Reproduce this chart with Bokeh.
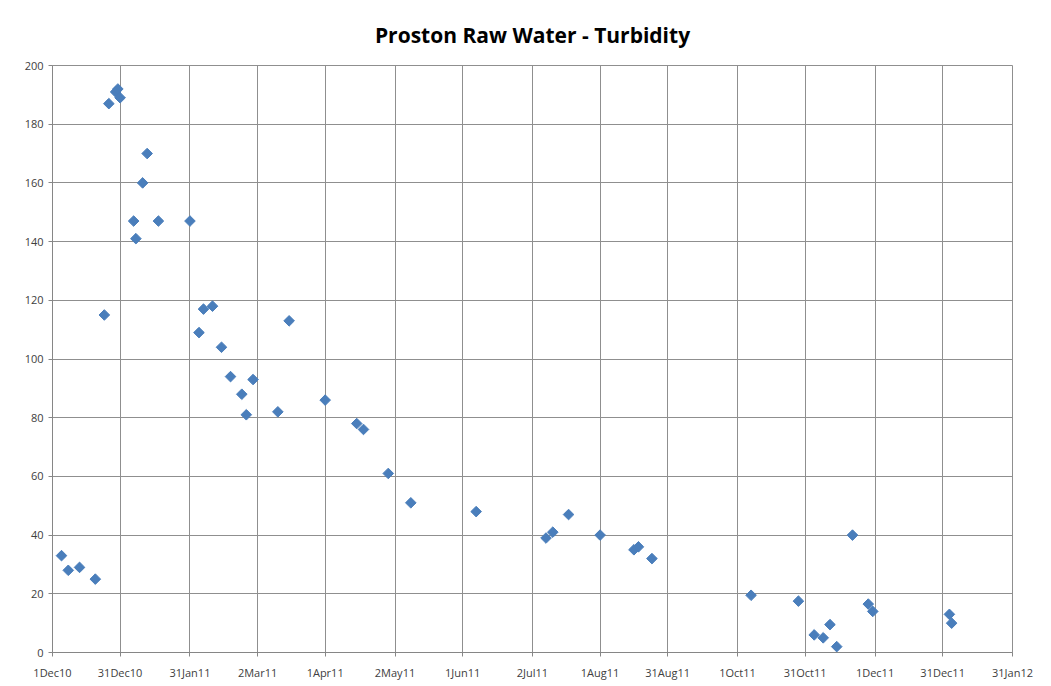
import math
import pandas as pd
from bokeh.plotting import figure
from bokeh.models import FixedTicker, ColumnDataSource
from bokeh.embed import file_html
from bokeh.resources import INLINE

start = pd.Timestamp("2010-12-01")

tick_dates = ["2010-12-01", "2010-12-31", "2011-01-31", "2011-03-02", "2011-04-01",
              "2011-05-02", "2011-06-01", "2011-07-02", "2011-08-01", "2011-08-31",
              "2011-10-01", "2011-10-31", "2011-12-01", "2011-12-31", "2012-01-31"]
tick_labels = ["1Dec10", "31Dec10", "31Jan11", "2Mar11", "1Apr11", "2May11", "1Jun11",
               "2Jul11", "1Aug11", "31Aug11", "1Oct11", "31Oct11", "1Dec11", "31Dec11",
               "31Jan12"]

# sample dates and turbidity values
dates = ["2010-12-05", "2010-12-08", "2010-12-13", "2010-12-20", "2010-12-24",
         "2010-12-26", "2010-12-29", "2010-12-30", "2010-12-31", "2011-01-06",
         "2011-01-07", "2011-01-10", "2011-01-12", "2011-01-17", "2011-01-31",
         "2011-02-04", "2011-02-06", "2011-02-10", "2011-02-14", "2011-02-18",
         "2011-02-23", "2011-02-25", "2011-02-28", "2011-03-11", "2011-03-16",
         "2011-04-01", "2011-04-15", "2011-04-18", "2011-04-29", "2011-05-09",
         "2011-06-07", "2011-07-08", "2011-07-11", "2011-07-18", "2011-08-01",
         "2011-08-16", "2011-08-18", "2011-08-24", "2011-10-07", "2011-10-28",
         "2011-11-04", "2011-11-08", "2011-11-11", "2011-11-14", "2011-11-21",
         "2011-11-28", "2011-11-30", "2012-01-03", "2012-01-04"]
turbidity = [33, 28, 29, 25, 115,
             187, 191, 192, 189, 147,
             141, 160, 170, 147, 147,
             109, 117, 118, 104, 94,
             88, 81, 93, 82, 113,
             86, 78, 76, 61, 51,
             48, 39, 41, 47, 40,
             35, 36, 32, 19.5, 17.5,
             6, 5, 9.5, 2, 40,
             16.5, 14, 13, 10]

x_days = [(pd.Timestamp(d) - start).days for d in dates]
tick_days = [(pd.Timestamp(d) - start).days for d in tick_dates]

src = ColumnDataSource(dict(x=x_days, y=turbidity))

p = figure(width=1051, height=686, output_backend="svg", toolbar_location=None,
           x_range=(tick_days[0], tick_days[-1]), y_range=(0, 200),
           min_border_left=52, min_border_right=39, min_border_top=65,
           min_border_bottom=34)

p.title.text = "Proston Raw Water - Turbidity"
p.title.text_font = "Open Sans"
p.title.text_font_size = "21px"
p.title.text_font_style = "bold"
p.title.text_color = "#000000"
p.title.align = "center"
p.title.offset = 0
p.title.standoff = 34

p.scatter("x", "y", source=src, marker="square", size=7.5, angle=math.pi / 4,
          fill_color="#4A7EBB", line_color="#4A7EBB")

p.xaxis.ticker = FixedTicker(ticks=tick_days)
p.xaxis.major_label_overrides = {d: l for d, l in zip(tick_days, tick_labels)}
p.yaxis.ticker = FixedTicker(ticks=list(range(0, 201, 20)))

for ax in (p.xaxis, p.yaxis):
    ax.axis_line_color = "#868686"
    ax.major_tick_line_color = "#868686"
    ax.minor_tick_line_color = None
    ax.major_tick_in = 0
    ax.major_tick_out = 4
    ax.major_label_text_font = "Open Sans"
    ax.major_label_text_font_size = "11px"
    ax.major_label_text_color = "#404040"
p.xaxis.major_label_standoff = 8
p.yaxis.major_label_standoff = 5

p.xgrid.ticker = FixedTicker(ticks=tick_days)
p.xgrid.grid_line_color = "#8f8f8f"
p.ygrid.grid_line_color = "#8f8f8f"
p.xgrid.grid_line_width = 1
p.ygrid.grid_line_width = 1
p.outline_line_color = "#8f8f8f"
p.background_fill_color = "white"
p.border_fill_color = "white"

open("out.html", "w").write(file_html(p, INLINE))
